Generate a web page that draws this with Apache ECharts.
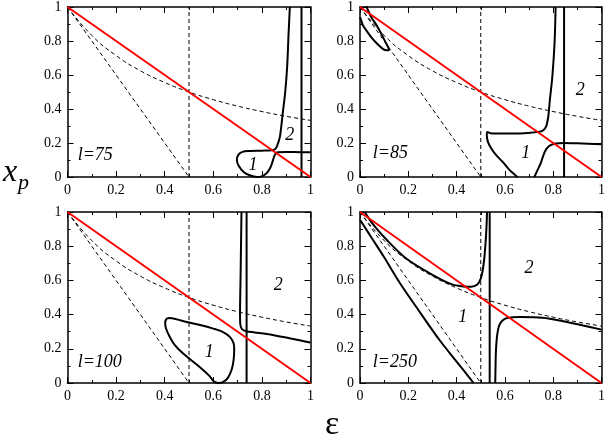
<!DOCTYPE html>
<html>
<head>
<meta charset="utf-8">
<script src="https://cdn.jsdelivr.net/npm/echarts@6/dist/echarts.min.js"></script>
<style>
  html, body { margin: 0; padding: 0; background: #fff; }
  #chart { width: 608px; height: 436px; }
</style>
</head>
<body>
<div id="chart"></div>
<script>
// reference curves, same in every panel
var redLine = [[0, 1], [1, 0]];
var dashLine = [[0, 1], [0.5, 0]];
var dashVert = [[0.5, 0], [0.5, 1]];
var dashCurve = [[0, 1], [0.1, 0.833], [0.2, 0.714], [0.3, 0.625], [0.4, 0.556], [0.5, 0.5],
  [0.6, 0.455], [0.7, 0.417], [0.8, 0.385], [0.9, 0.357], [1, 0.333]];

// l=75
var vert75 = [[0.963, 0], [0.963, 1]];
var curve75 = [[0.915, 1], [0.91, 0.85], [0.904, 0.65], [0.896, 0.5], [0.887, 0.39], [0.874, 0.236],
  [0.863, 0.185], [0.855, 0.165], [0.84, 0.157], [0.8, 0.155], [0.75, 0.153], [0.72, 0.148],
  [0.703, 0.13], [0.697, 0.1], [0.705, 0.065], [0.725, 0.03], [0.75, 0.01], [0.78, 0],
  [0.795, 0.002], [0.81, 0.012], [0.825, 0.032], [0.838, 0.065], [0.848, 0.11], [0.856, 0.136],
  [0.866, 0.145], [0.9, 0.147], [0.963, 0.146], [1, 0.146]];

// l=85
var vert85 = [[0.845, 0], [0.845, 1]];
var upper85 = [[0.81, 1], [0.806, 0.8], [0.797, 0.6], [0.786, 0.45], [0.779, 0.35], [0.77, 0.295],
  [0.755, 0.272], [0.73, 0.264], [0.68, 0.258], [0.6, 0.256], [0.54, 0.258], [0.527, 0.265],
  [0.525, 0.245], [0.53, 0.205], [0.545, 0.165], [0.565, 0.127], [0.59, 0.09], [0.617, 0.045], [0.652, 0]];
var lower85 = [[0.722, 0], [0.735, 0.04], [0.748, 0.08], [0.76, 0.13], [0.772, 0.165], [0.789, 0.187],
  [0.81, 0.197], [0.845, 0.2], [0.9, 0.198], [1, 0.193]];
var ellipse85 = [[0.022, 1.02], [0.035, 0.975], [0.048, 0.937], [0.07, 0.89], [0.089, 0.84],
  [0.105, 0.795], [0.117, 0.762], [0.12, 0.748], [0.11, 0.745], [0.096, 0.752], [0.07, 0.785],
  [0.048, 0.82], [0.025, 0.865], [0.012, 0.893], [0.004, 0.925], [0, 0.94]];

// l=100
var vert100 = [[0.737, 0], [0.737, 1]];
var upper100 = [[0.716, 1], [0.714, 0.8], [0.712, 0.6], [0.71, 0.42], [0.711, 0.345], [0.718, 0.315],
  [0.735, 0.303], [0.77, 0.296], [0.82, 0.287], [0.9, 0.266], [0.96, 0.248], [1, 0.237]];
var loop100 = [[0.407, 0.376], [0.42, 0.38], [0.45, 0.372], [0.49, 0.357], [0.55, 0.338], [0.6, 0.318],
  [0.64, 0.298], [0.668, 0.27], [0.683, 0.235], [0.686, 0.2], [0.684, 0.14], [0.676, 0.08],
  [0.66, 0.03], [0.64, 0.005], [0.62, 0], [0.6, 0.012], [0.585, 0.04], [0.544, 0.094],
  [0.476, 0.172], [0.44, 0.225], [0.421, 0.269], [0.405, 0.32], [0.402, 0.355], [0.407, 0.376]];

// l=250
var vert250 = [[0.537, 0], [0.537, 1]];
var upper250 = [[0.02, 1], [0.05, 0.935], [0.11, 0.838], [0.19, 0.73], [0.3, 0.633], [0.384, 0.575],
  [0.43, 0.565], [0.46, 0.563], [0.487, 0.578], [0.5, 0.61], [0.507, 0.65], [0.514, 0.72],
  [0.52, 0.82], [0.524, 0.92], [0.526, 1]];
var lowerLeft250 = [[0, 0.955], [0.05, 0.845], [0.1, 0.735], [0.165, 0.585], [0.25, 0.41],
  [0.33, 0.25], [0.4, 0.125], [0.44, 0.055], [0.47, 0]];
var lowerRight250 = [[0.56, 0], [0.561, 0.08], [0.563, 0.19], [0.568, 0.28], [0.576, 0.335],
  [0.59, 0.365], [0.61, 0.38], [0.66, 0.386], [0.72, 0.384], [0.78, 0.377], [0.88, 0.35], [1, 0.312]];

// panel annotations
var panelNames = ['l=75', 'l=85', 'l=100', 'l=250'];
var namePos = [[0.042, 0.129], [0.053, 0.14], [0.042, 0.123], [0.053, 0.123]];
var region1Pos = [[0.763, 0.07], [0.686, 0.139], [0.583, 0.181], [0.425, 0.386]];
var region2Pos = [[0.915, 0.245], [0.912, 0.51], [0.867, 0.571], [0.70, 0.669]];

var panelCurves = [
  [vert75, curve75],
  [vert85, upper85, lower85, ellipse85],
  [vert100, upper100, loop100],
  [vert250, upper250, lowerLeft250, lowerRight250]
];

var serif = '"Liberation Serif", "DejaVu Serif", "Nimbus Roman", serif';
var grids = [
  { left: 67.5, top: 6, width: 243, height: 171 },
  { left: 360, top: 6, width: 243, height: 171 },
  { left: 67.5, top: 212, width: 243, height: 171 },
  { left: 360, top: 212, width: 243, height: 171 }
];

var xAxes = [], yAxes = [], series = [];

function axis(grid, pos, showLabel) {
  return {
    gridIndex: grid, type: 'value', position: pos,
    min: 0, max: 1, interval: 0.2,
    axisLine: { show: true, onZero: false, lineStyle: { color: '#000', width: 1.5 } },
    axisTick: { show: true, inside: true, length: 6, lineStyle: { color: '#000', width: 1 } },
    minorTick: { show: true, splitNumber: 2, length: 3, lineStyle: { color: '#000', width: 1 } },
    splitLine: { show: false },
    axisLabel: { show: showLabel, fontFamily: serif, fontSize: 14, color: '#000', margin: 6 }
  };
}

function line(g, data, style, smooth) {
  return {
    type: 'line', xAxisIndex: 2 * g, yAxisIndex: 2 * g, data: data,
    symbol: 'none', smooth: smooth || false, silent: true, lineStyle: style
  };
}

function text(g, pos, str, position) {
  return {
    type: 'scatter', xAxisIndex: 2 * g, yAxisIndex: 2 * g, data: [pos],
    symbolSize: 0, itemStyle: { color: '#000', opacity: 1 }, silent: true, z: 5,
    label: {
      show: true, formatter: str, position: position, distance: 0, opacity: 1,
      fontFamily: serif, fontStyle: 'italic', fontSize: 18, color: '#000'
    }
  };
}

var dash = { color: '#000', width: 1, type: [4, 3] };
var solid = { color: '#000', width: 2 };
var red = { color: '#ff0000', width: 2 };

for (var g = 0; g < 4; g++) {
  xAxes.push(axis(g, 'bottom', true));
  xAxes.push(axis(g, 'top', false));
  yAxes.push(axis(g, 'left', true));
  yAxes.push(axis(g, 'right', false));

  series.push(line(g, dashLine, dash));
  series.push(line(g, dashVert, dash));
  series.push(line(g, dashCurve, dash, true));
  panelCurves[g].forEach(function (c, k) {
    series.push(line(g, c, solid, k === 0 ? false : 0.3));
  });
  series.push(line(g, redLine, red));
  series.push(text(g, namePos[g], panelNames[g], 'right'));
  series.push(text(g, region1Pos[g], '1', 'inside'));
  series.push(text(g, region2Pos[g], '2', 'inside'));
}

var chart = echarts.init(document.getElementById('chart'));
chart.setOption({
  animation: false,
  backgroundColor: '#fff',
  grid: grids,
  xAxis: xAxes,
  yAxis: yAxes,
  series: series,
  graphic: [
    { type: 'text', left: 3, top: 157, style: { text: 'x', fontFamily: serif, fontStyle: 'italic', fontSize: 32, fill: '#000' } },
    { type: 'text', left: 18, top: 172, style: { text: 'p', fontFamily: serif, fontStyle: 'italic', fontSize: 22, fill: '#000' } },
    { type: 'text', left: 325, top: 408, style: { text: 'ε', fontFamily: serif, fontSize: 34, fill: '#000' } }
  ]
});
</script>
</body>
</html>
